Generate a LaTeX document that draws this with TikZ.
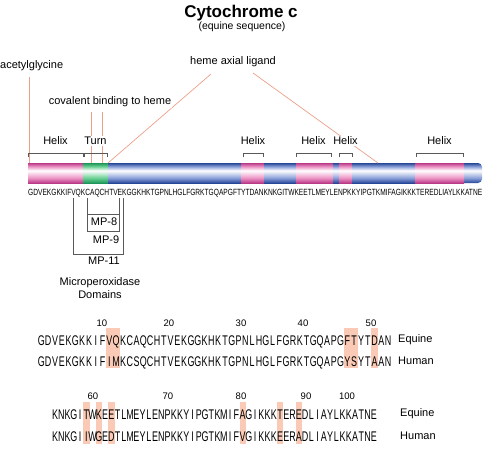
\documentclass[tikz,border=0pt]{standalone}
\usepackage{fontspec}
\usepackage{graphicx}
\setmainfont{Liberation Sans}
\usetikzlibrary{backgrounds}

\definecolor{lnkcol}{RGB}{236,160,138}
\definecolor{hlcol}{RGB}{250,202,182}
\definecolor{hxdark}{RGB}{186,58,136}
\definecolor{hxlite}{RGB}{236,150,198}
\definecolor{tndark}{RGB}{28,150,88}
\definecolor{tnlite}{RGB}{110,210,150}
\definecolor{cldark}{RGB}{38,70,152}
\definecolor{cllite}{RGB}{140,162,218}

\pgfdeclareverticalshading{hxsh}{100bp}{color(0bp)=(hxdark); color(25bp)=(hxdark); color(38bp)=(hxlite); color(56bp)=(white); color(66bp)=(hxlite); color(75bp)=(hxdark); color(100bp)=(hxdark)}
\pgfdeclareverticalshading{tnsh}{100bp}{color(0bp)=(tndark); color(25bp)=(tndark); color(38bp)=(tnlite); color(56bp)=(white); color(66bp)=(tnlite); color(75bp)=(tndark); color(100bp)=(tndark)}
\pgfdeclareverticalshading{clsh}{100bp}{color(0bp)=(cldark); color(25bp)=(cldark); color(38bp)=(cllite); color(56bp)=(white); color(66bp)=(cllite); color(75bp)=(cldark); color(100bp)=(cldark)}

\newcommand{\aacell}[1]{\scalebox{0.64}[1]{#1}}

\tikzset{
  lnk/.style={draw=lnkcol, line width=0.7pt},
  brk/.style={draw=black!65, line width=0.6pt},
  lbl/.style={font=\fontsize{11}{13}\selectfont, inner sep=1pt},
  lblw/.style={lbl, fill=white},
  num/.style={font=\fontsize{9.5}{9.5}\selectfont, inner sep=0pt},
  res/.style={inner sep=0pt, outer sep=0pt, anchor=base, minimum width=#1,
    font=\fontsize{14}{14}\selectfont},
  hl/.style={fill=hlcol}
}

\begin{document}
\begin{tikzpicture}[x=1pt,y=-1pt]
  \useasboundingbox (0,0) rectangle (488,450);

  % title
  \node[font=\fontsize{17}{17}\selectfont\bfseries] (ttl) at (241,13) {Cytochrome c};
  \node[font=\fontsize{10.5}{10.5}\selectfont] (sub) at (242,27) {(equine sequence)};

  % the chain
  \shade[shading=clsh, rounded corners=4pt] (455,163) rectangle (482,183);
  \foreach \a/\b/\s in {28/83/hxsh, 83/108/tnsh, 108/241/clsh, 241/264/hxsh, 264/296/clsh,
      296/333/hxsh, 333/339/clsh, 339/352/hxsh, 352/415/clsh, 415/464/hxsh}
    \shade[shading=\s] (\a,163) rectangle (\b,183);

  \coordinate (acA) at (29,163);
  \coordinate (cvA) at (91,163);
  \coordinate (cvB) at (102,163);
  \coordinate (hmA) at (108,163);
  \coordinate (hmB) at (378,163);
  \coordinate (hmL) at (211,74);
  \coordinate (hmR) at (253,73);

  \node[lbl, anchor=west, inner sep=0pt] (ace) at (0,66) {acetylglycine};
  \node[lbl] (hem) at (233,62) {heme axial ligand};

  \draw[lnk] (hmL) -- (hmA);
  \draw[lnk] (hmR) -- (hmB);
  \draw[lnk, shorten <=6pt] (acA |- ace.south) -- (acA);

  \node[lblw] (cov) at (110,102) {covalent binding to heme};
  \draw[lnk, shorten <=4pt] (cvA |- cov.south) -- (cvA);
  \draw[lnk, shorten <=4pt] (cvB |- cov.south) -- (cvB);

  % helix / turn brackets
  \foreach \a/\b/\t [count=\n] in {28/83/Helix, 84/107/Turn, 243/263/Helix, 296/331/Helix,
      339/352/Helix, 416/463/Helix} {
    \draw[brk] (\a,157) -- (\a,153) -- (\b,153) -- (\b,157);
    \node[lblw] (ss\n) at ({(\a+\b)/2},141) {\t};
  }

  \node[anchor=west, inner sep=0pt] (seqtxt) at (28,193)
    {\resizebox{454pt}{\height}{\fontsize{9}{9}\selectfont GDVEKGKKIFVQKCAQCHTVEKGGKHKTGPNLHGLFGRKTGQAPGFTYTDANKNKGITWKEETLMEYLENPKKYIPGTKMIFAGIKKKTEREDLIAYLKKATNE}};

  % microperoxidase domains
  \draw[brk] (73,198) -- (73,254) -- (123,254) -- (123,198);
  \draw[brk] (87,198) -- (87,231) -- (119,231) -- (119,198);
  \draw[brk] (87,214) -- (119,214);
  \node[lbl] (mp8) at (104,222) {MP-8};
  \node[lbl] (mp9) at (106,240) {MP-9};
  \node[lbl] (mp11) at (104,261) {MP-11};
  \node[lbl, align=center] (mpd) at (100,288) {Microperoxidase\\Domains};

  % alignment, residues 1-52
  \foreach \v/\x in {10/102, 20/169, 30/241, 40/303, 50/371}
    \node[num] (n\v) at (\x,323) {\v};
  \foreach \aa [count=\k] in {G,D,V,E,K,G,K,K,I,F,V,Q,K,C,A,Q,C,H,T,V,
      E,K,G,G,K,H,K,T,G,P,N,L,H,G,L,F,G,R,K,T,G,Q,A,P,G,F,T,Y,T,D,A,N}
    \node[res=6.8pt] (eA\k) at ({38+(\k-0.5)*6.8},345) {\aacell{\aa}};
  \foreach \aa [count=\k] in {G,D,V,E,K,G,K,K,I,F,I,M,K,C,S,Q,C,H,T,V,
      E,K,G,G,K,H,K,T,G,P,N,L,H,G,L,F,G,R,K,T,G,Q,A,P,G,Y,S,Y,T,A,A,N}
    \node[res=6.8pt] (hA\k) at (eA\k.base |- 0,366) {\aacell{\aa}};
  \node[lbl, anchor=west] (eqA) at (397,340) {Equine};
  \node[lbl, anchor=west] (huA) at (397,361) {Human};

  % alignment, residues 53-104
  \foreach \v/\x in {60/93, 70/168, 80/241, 90/306, 100/347}
    \node[num] (n\v) at (\x,396) {\v};
  \foreach \aa [count=\k from 53] in {K,N,K,G,I,T,W,K,E,E,
      T,L,M,E,Y,L,E,N,P,K,K,Y,I,P,G,T,K,M,I,F,A,G,I,K,K,K,T,E,R,E,D,L,I,A,Y,L,K,K,A,T,N,E}
    \node[res=6.25pt] (eB\k) at ({52+(\k-52.5)*6.25},419) {\aacell{\aa}};
  \foreach \aa [count=\k from 53] in {K,N,K,G,I,I,W,G,E,D,
      T,L,M,E,Y,L,E,N,P,K,K,Y,I,P,G,T,K,M,I,F,V,G,I,K,K,K,E,E,R,A,D,L,I,A,Y,L,K,K,A,T,N,E}
    \node[res=6.25pt] (hB\k) at (eB\k.base |- 0,441) {\aacell{\aa}};
  \node[lbl, anchor=west] (eqB) at (399,414) {Equine};
  \node[lbl, anchor=west] (huB) at (399,436) {Human};

  \begin{pgfonlayer}{background}
    \fill[hl] (eA11.west |- 0,328) rectangle (eA12.east |- 0,368);
    \fill[hl] (eA46.west |- 0,328) rectangle (eA47.east |- 0,368);
    \fill[hl] (eA50.west |- 0,328) rectangle (eA50.east |- 0,368);
    \foreach \r in {58,60,62,83,89,92}
      \fill[hl] (eB\r.west |- 0,402) rectangle (eB\r.east |- 0,444);
  \end{pgfonlayer}
\end{tikzpicture}
\end{document}
